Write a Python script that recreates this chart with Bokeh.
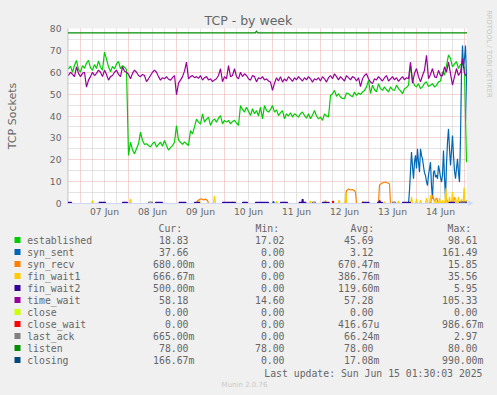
import math
import numpy as np
from bokeh.plotting import figure
from bokeh.models import Range1d, FixedTicker, GlobalInlineStyleSheet
from bokeh.layouts import column, row
from bokeh.core.properties import value
from bokeh.embed import file_html
from bokeh.resources import INLINE

# ---------------- data (time = hours since 2025-06-06 00:00) ----------------
T_START, T_END = 17.5, 217.5          # Jun 6 17:30 .. Jun 15 01:30
hours = np.arange(18, 218)             # hourly samples, 200 values

established = [
    61.5, 62.8, 60.0, 63.2, 65.4, 61.2,
    60.1, 63.0, 61.8, 64.2, 65.4, 62.0, 60.9, 63.5, 61.7, 65.2, 62.4, 61.0,
    69.2, 66.0, 62.5, 60.2, 62.7, 61.5, 63.8, 65.0, 61.6, 63.0, 62.3, 61.2,
    22.0, 28.0, 24.5, 22.7, 25.0, 27.3, 32.6, 28.8, 27.0, 27.3, 26.5, 25.8,
    27.3, 28.2, 25.8, 27.0, 28.0, 26.2, 28.8, 26.5, 24.4, 25.5, 26.5, 28.0,
    35.6, 29.0, 28.0, 27.0, 28.2, 27.3, 26.5, 33.3, 31.8, 35.0, 38.6, 37.2,
    36.3, 41.0, 37.2, 38.6, 39.5, 35.7, 37.8, 38.7, 37.2, 39.0, 40.2, 36.4,
    38.0, 37.2, 38.0, 36.4, 37.5, 38.0, 36.8, 35.7, 44.8, 43.0, 41.8, 44.0,
    42.2, 40.2, 43.3, 41.0, 42.5, 40.0, 44.0, 38.7, 44.8, 42.5, 41.8, 43.0,
    44.8, 41.8, 42.8, 40.2, 41.5, 42.5, 38.7, 41.0, 40.0, 41.5, 39.5, 41.0,
    40.3, 39.5, 41.0, 41.8, 40.2, 39.0, 41.0, 38.7, 40.5, 42.5, 40.0, 38.7,
    39.5, 38.0, 41.0, 40.0, 39.5, 49.4, 50.2, 51.7, 49.0, 50.2, 48.7, 48.0,
    47.9, 50.5, 50.2, 49.4, 48.8, 51.0, 49.4, 50.5, 49.8, 51.0, 51.7, 53.3,
    56.3, 50.2, 54.1, 52.0, 51.0, 54.8, 52.5, 51.7, 53.3, 52.0, 51.0, 53.3,
    52.0, 51.7, 54.1, 52.5, 51.5, 50.2, 52.5, 53.0, 54.1, 63.2, 56.4, 54.0,
    53.3, 54.8, 52.5, 53.3, 55.0, 55.6, 53.5, 54.1, 54.8, 53.3, 54.0, 55.6,
    56.0, 60.2, 58.7, 63.0, 67.9, 66.3, 62.5, 63.8, 64.8, 61.7, 63.5, 64.0,
    62.0, 18.83,
]

time_wait = [
    58.5, 60.0, 59.0, 58.0, 62.5, 59.5,
    58.0, 59.5, 60.0, 53.2, 56.4, 58.0, 60.0, 58.5, 59.5, 61.0, 60.0, 58.0,
    61.0, 59.0, 56.4, 58.0, 58.5, 60.0, 61.0, 59.0, 58.0, 62.5, 60.5, 60.0,
    59.0, 57.0, 59.5, 61.0, 60.0, 58.5, 58.0, 59.0, 58.5, 55.7, 57.0, 58.5,
    60.0, 61.0, 60.0, 58.0, 56.4, 57.5, 57.0, 58.0, 56.8, 56.4, 57.5, 58.5,
    49.7, 55.0, 56.4, 58.0, 60.5, 64.6, 57.0, 58.0, 58.5, 57.5, 58.0, 57.2,
    58.5, 56.4, 57.5, 58.0, 56.5, 57.0, 55.7, 56.5, 57.0, 58.5, 61.6, 55.7,
    58.0, 57.0, 63.0, 58.0, 58.5, 61.6, 58.0, 57.0, 60.0, 58.0, 59.3, 58.5,
    57.0, 56.4, 58.5, 58.0, 55.6, 57.5, 57.0, 58.0, 56.5, 57.0, 56.0, 55.5,
    51.7, 55.0, 57.5, 56.0, 58.0, 55.5, 57.0, 56.0, 58.0, 57.0, 55.8, 57.5,
    56.5, 58.0, 57.0, 56.0, 57.5, 56.5, 58.0, 57.0, 55.5, 57.0, 56.5, 57.5,
    56.0, 58.0, 57.0, 55.5, 57.5, 58.5, 57.0, 59.3, 58.0, 56.5, 58.0, 57.0,
    56.0, 58.5, 57.5, 56.5, 58.0, 57.5, 56.0, 57.5, 53.4, 57.0, 58.5, 59.3,
    57.0, 55.5, 54.8, 57.0, 56.5, 58.0, 57.0, 56.0, 57.5, 58.5, 56.0, 57.0,
    58.0, 56.5, 57.5, 55.8, 57.0, 58.0, 56.5, 57.5, 57.0, 64.6, 55.0, 59.5,
    61.7, 58.0, 55.6, 58.5, 60.9, 67.7, 57.0, 59.0, 61.7, 58.0, 57.5, 60.9,
    58.5, 58.5, 62.5, 60.0, 64.6, 59.4, 54.1, 58.0, 61.7, 58.5, 60.0, 66.2,
    59.4, 58.18,
]

# syn_sent: quiet part (breakpoints) + half-hourly samples from 188:00
syn_sent_early_t = [17.5, 120.0, 120.5, 121.0, 187.5]
syn_sent_early_v = [0.0, 0.0, 1.0, 0.0, 0.0]
syn_sent_late_t = np.arange(188.0, 217.75, 0.5)
syn_sent_late_v = [
    0.0, 6.0, 15.0, 23.5, 17.0, 11.3, 19.0, 22.0, 16.0, 25.0, 19.0, 14.3,
    25.0, 22.0, 20.4, 17.0, 14.0, 12.8, 10.0, 8.2, 13.0, 16.0, 18.9, 8.0,
    2.3, 14.3, 15.0, 12.0, 13.0, 11.3, 17.4, 15.0, 12.0, 9.8, 13.0, 24.2,
    12.0, 2.3, 18.0, 28.0, 34.1, 25.0, 17.4, 24.0, 31.1, 22.0, 15.0, 11.3,
    16.0, 20.4, 14.0, 9.8, 30.0, 60.0, 72.2, 62.0, 66.2, 72.2, 58.0, 37.66,
]

# syn_recv: breakpoints
syn_recv_t = [17.5, 82.0, 82.5, 83.5, 84.5, 85.5, 86.5, 87.5, 88.0,
              156.5, 157.0, 158.0, 159.0, 160.0, 161.0, 161.5, 162.0,
              173.0, 173.5, 174.5, 175.5, 176.5, 177.5, 178.5, 179.0,
              199.0, 200.0, 201.0, 202.0, 203.0, 206.0, 207.0, 208.0,
              210.0, 211.0, 212.0, 217.5]
syn_recv_v = [0.0, 0.0, 1.2, 1.8, 2.2, 1.6, 2.0, 1.4, 0.0,
              0.0, 5.8, 6.6, 6.2, 6.4, 5.8, 5.2, 0.0,
              0.0, 8.5, 9.2, 9.6, 9.8, 9.4, 9.0, 0.0,
              0.0, 3.7, 1.0, 2.5, 0.0, 0.0, 2.0, 0.0,
              0.0, 2.8, 0.0, 0.68]

# fin_wait1: spikes (time, height)
fin_wait1_t = [30.0, 49.0, 83.5, 91.0, 100.0, 122.0, 139.0, 146.5, 153.3, 156.7,
               165.0, 176.0, 183.0, 189.5, 192.0, 194.0, 197.0, 199.0, 201.5,
               203.5, 205.0, 206.7, 208.5, 210.0, 211.5, 213.0, 214.5, 215.8, 217.0]
fin_wait1_h = [1.4, 2.0, 1.2, 3.5, 0.8, 1.0, 1.2, 1.5, 1.5, 5.2,
               1.0, 0.8, 1.2, 3.0, 2.0, 1.5, 2.5, 3.7, 1.8,
               2.5, 1.5, 7.0, 3.0, 5.2, 2.5, 3.0, 2.0, 7.3, 1.5]

# fin_wait2: level segments (start, end, level)
fin_wait2_start = [17.5, 33.3, 45.0, 61.5, 73.3, 81.0, 95.0, 105.0, 111.5, 124.0, 133.3,
                   134.8, 135.3, 145.0, 165.0, 172.5, 173.3, 173.8, 185.0, 208.3, 213.5]
fin_wait2_end = [19.5, 36.5, 47.5, 65.0, 76.7, 83.5, 101.5, 107.5, 118.0, 127.5, 134.8,
                 135.3, 136.7, 148.3, 168.3, 173.3, 173.8, 175.0, 189.0, 211.0, 217.5]
fin_wait2_level = [0.5, 0.5, 0.5, 0.5, 0.5, 0.5, 0.5, 0.5, 0.5, 0.5, 0.5,
                   1.8, 0.5, 0.5, 0.5, 0.5, 1.2, 0.5, 0.5, 0.5, 0.5]

close_start, close_end, close_level = [], [], []
close_wait_start, close_wait_end, close_wait_level = [150.0], [150.5], [0.98]
last_ack_start = [58.0, 140.0, 180.0, 214.0]
last_ack_end = [60.0, 141.5, 181.5, 217.5]
last_ack_level = [0.6, 0.6, 0.6, 0.665]
closing_start, closing_end, closing_level = [216.5], [217.5], [0.17]

listen_t = [17.5, 111.5, 112.0, 112.5, 217.5]
listen_v = [78.0, 78.0, 79.0, 78.0, 78.0]

# axis ticks
x_label_hours = [36, 60, 84, 108, 132, 156, 180, 204]
x_labels = ["07 Jun", "08 Jun", "09 Jun", "10 Jun", "11 Jun", "12 Jun", "13 Jun", "14 Jun"]
day_lines = [24, 48, 72, 96, 120, 144, 168, 192, 216]
six_hour_lines = [18, 30, 36, 42, 54, 60, 66, 78, 84, 90, 102, 108, 114, 126, 132, 138,
                  150, 156, 162, 174, 180, 186, 198, 204, 210]
y_ticks = [0, 10, 20, 30, 40, 50, 60, 70, 80]
y_minor = [5, 15, 25, 35, 45, 55, 65, 75]

# legend table
names = ["established", "syn_sent", "syn_recv", "fin_wait1", "fin_wait2", "time_wait",
         "close", "close_wait", "last_ack", "listen", "closing"]
colors = ["#00CC00", "#0066B3", "#FF8000", "#FFCC00", "#330099", "#990099",
          "#CCFF00", "#FF0000", "#808080", "#008F00", "#00487D"]
cur = ["18.83", "37.66", "680.00m", "666.67m", "500.00m", "58.18", "0.00", "0.00",
       "665.00m", "78.00", "166.67m"]
mins = ["17.02", "0.00", "0.00", "0.00", "0.00", "14.60", "0.00", "0.00", "0.00",
        "78.00", "0.00"]
avgs = ["45.69", "3.12", "670.47m", "386.76m", "119.60m", "57.28", "0.00", "416.67u",
        "66.24m", "78.00", "17.08m"]
maxs = ["98.61", "161.49", "15.85", "35.56", "5.95", "105.33", "0.00", "986.67m",
        "2.97", "80.00", "990.00m"]

# ---------------- helpers ----------------
def seg_line(starts, ends, levels):
    xs, ys = [T_START], [0.0]
    for s, e, l in zip(starts, ends, levels):
        xs += [s, s, e, e]
        ys += [0.0, l, l, 0.0]
    xs.append(T_END)
    ys.append(0.0)
    return xs, ys

def spike_line(ts, hs):
    xs, ys = [T_START], [0.0]
    for t, h in zip(ts, hs):
        xs += [t - 0.5, t, t + 0.5]
        ys += [0.0, h, 0.0]
    xs.append(T_END)
    ys.append(0.0)
    return xs, ys

def no_align(fig):
    if "frame_align" in fig.properties():
        fig.frame_align = False

FONT_COL = "#666666"
BG = "#F0F0F0"

# ---------------- chart ----------------
p = figure(width=467, height=222, x_range=Range1d(T_START, T_END), y_range=Range1d(0, 80),
           output_backend="svg", toolbar_location=None,
           min_border_left=67, min_border_right=0, min_border_top=28, min_border_bottom=19,
           background_fill_color="#FFFFFF", border_fill_color=BG,
           outline_line_color=None)
no_align(p)

p.title.text = "TCP - by week"
p.title.align = "left"
p.title.offset = 137
p.title.standoff = 2
p.title.text_font = "DejaVu Sans"
p.title.text_font_size = "12.5px"
p.title.text_font_style = "normal"
p.title.text_color = FONT_COL

p.xaxis.ticker = FixedTicker(ticks=x_label_hours)
p.xaxis.major_label_overrides = {h: s for h, s in zip(x_label_hours, x_labels)}
p.yaxis.ticker = FixedTicker(ticks=y_ticks, minor_ticks=y_minor)
p.xgrid.ticker = FixedTicker(ticks=day_lines, minor_ticks=six_hour_lines)

for ax in (p.xaxis, p.yaxis):
    ax.axis_line_color = "#CFD6F8"
    ax.axis_line_width = 1
    ax.major_tick_line_color = None
    ax.minor_tick_line_color = None
    ax.major_tick_out = 0
    ax.minor_tick_out = 0
    ax.major_tick_in = 0
    ax.minor_tick_in = 0
    ax.major_label_text_font = "DejaVu Sans"
    ax.major_label_text_font_size = "9.2px"
    ax.major_label_text_color = FONT_COL
p.xaxis.major_label_standoff = 2
p.yaxis.major_label_standoff = 6
p.yaxis.axis_label = "TCP Sockets"
p.yaxis.axis_label_text_font = "DejaVu Sans"
p.yaxis.axis_label_text_font_size = "11px"
p.yaxis.axis_label_text_font_style = "normal"
p.yaxis.axis_label_text_color = FONT_COL
p.yaxis.axis_label_standoff = 28

for g in (p.xgrid, p.ygrid):
    g.grid_line_color = "#EBA8A8"
    g.grid_line_dash = "1 1"
    g.grid_line_width = 1
    g.minor_grid_line_color = "#C8C8C8"
    g.minor_grid_line_dash = "1 1"
    g.minor_grid_line_width = 1

LW = 1.2
p.line(hours, established, line_color=colors[0], line_width=LW)
p.line(syn_sent_early_t + list(syn_sent_late_t), syn_sent_early_v + syn_sent_late_v,
       line_color=colors[1], line_width=LW)
p.line(syn_recv_t, syn_recv_v, line_color=colors[2], line_width=LW)
xs, ys = spike_line(fin_wait1_t, fin_wait1_h)
p.line(xs, ys, line_color=colors[3], line_width=LW)
xs, ys = seg_line(fin_wait2_start, fin_wait2_end, fin_wait2_level)
p.line(xs, ys, line_color=colors[4], line_width=LW)
p.line(hours, time_wait, line_color=colors[5], line_width=LW)
xs, ys = seg_line(close_start, close_end, close_level)
p.line(xs, ys, line_color=colors[6], line_width=LW)
xs, ys = seg_line(close_wait_start, close_wait_end, close_wait_level)
p.line(xs, ys, line_color=colors[7], line_width=LW)
xs, ys = seg_line(last_ack_start, last_ack_end, last_ack_level)
p.line(xs, ys, line_color=colors[8], line_width=LW)
p.line(listen_t, listen_v, line_color=colors[9], line_width=LW)
xs, ys = seg_line(closing_start, closing_end, closing_level)
p.line(xs, ys, line_color=colors[10], line_width=LW)

# ---------------- right strip: x-axis arrow and rrdtool credit ----------------
side = figure(width=30, height=222, x_range=Range1d(467, 497), y_range=Range1d(222, 0),
              output_backend="svg", toolbar_location=None, min_border=0,
              x_axis_type=None, y_axis_type=None,
              background_fill_color=BG, border_fill_color=BG, outline_line_color=None)
no_align(side)
side.grid.visible = False
side.text(x=[488.5], y=[53.4], text=["RRDTOOL / TOBI OETIKER"], angle=-math.pi / 2,
          text_font=value("DejaVu Sans"), text_font_size="6.8px", text_color="#C4C4C4",
          text_align="center", text_baseline="middle")
side.text(x=[470], y=[202.8], text=["\u25B6"], text_font=value("DejaVu Sans"),
          text_font_size="7px", text_color="#CFD6F8", text_align="center",
          text_baseline="middle")

# ---------------- legend / stats ----------------
q = figure(width=497, height=173, x_range=Range1d(0, 497), y_range=Range1d(395, 222),
           output_backend="svg", toolbar_location=None, min_border=0,
           x_axis_type=None, y_axis_type=None,
           background_fill_color=BG, border_fill_color=BG, outline_line_color=None)
no_align(q)
q.grid.visible = False

MONO = value("DejaVu Sans Mono")
FS = "9.8px"
row_y = [239.5 + 12 * i for i in range(len(names))]

q.rect(x=[17] * len(names), y=row_y, width=6, height=6, fill_color=colors, line_color=None)
q.text(x=[26.7] * len(names), y=row_y, text=names, text_font=MONO, text_font_size=FS,
       text_color=FONT_COL, text_align="left", text_baseline="middle")

headers = ["Cur:", "Min:", "Avg:", "Max:"]
header_x = [158, 255, 350, 447]
q.text(x=header_x, y=[227.5] * 4, text=headers, text_font=MONO, text_font_size=FS,
       text_color=FONT_COL, text_align="left", text_baseline="middle")

col_right = [188, 284, 373, 477]
for col, xr in zip([cur, mins, avgs, maxs], col_right):
    nums = [s[:-1] if s[-1] in "mu" else s for s in col]
    units = [s[-1] if s[-1] in "mu" else "" for s in col]
    q.text(x=[xr] * len(nums), y=row_y, text=nums, text_font=MONO, text_font_size=FS,
           text_color=FONT_COL, text_align="right", text_baseline="middle")
    q.text(x=[xr] * len(units), y=row_y, text=units, text_font=MONO, text_font_size=FS,
           text_color=FONT_COL, text_align="left", text_baseline="middle")

q.text(x=[482], y=[372.5], text=["Last update: Sun Jun 15 01:30:03 2025"], text_font=MONO,
       text_font_size=FS, text_color=FONT_COL, text_align="right", text_baseline="middle")
q.text(x=[244], y=[384], text=["Munin 2.0.76"], text_font=value("DejaVu Sans"),
       text_font_size="7px", text_color="#C8C8C8", text_align="center", text_baseline="middle")

layout = column(row(p, side, spacing=0), q, spacing=0)
layout.stylesheets = [GlobalInlineStyleSheet(css="html, body { background-color: #F0F0F0; }")]

open("out.html", "w").write(file_html(layout, INLINE))
